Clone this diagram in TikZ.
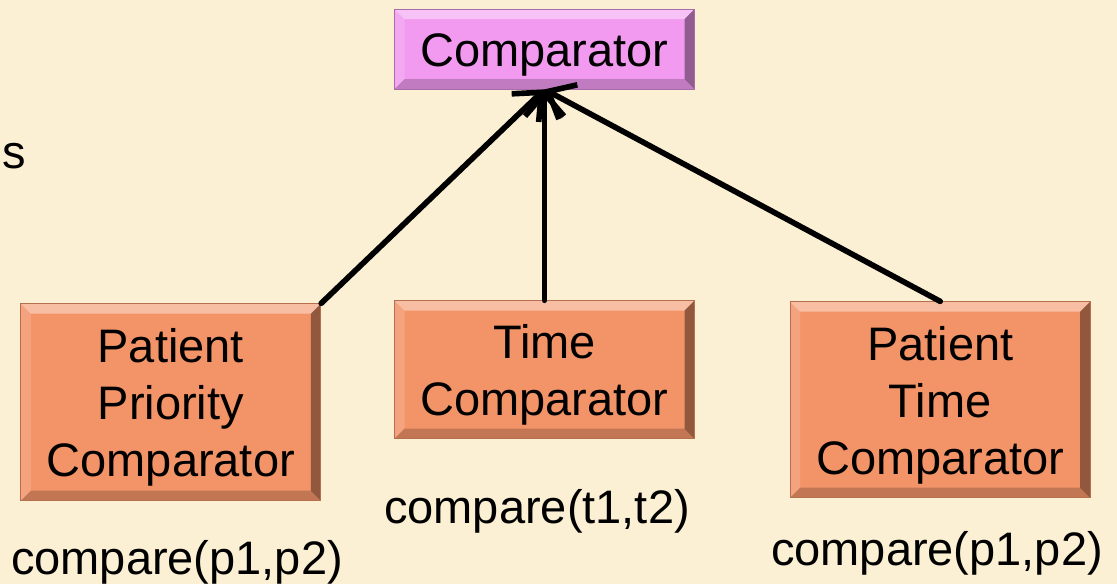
\documentclass[tikz,border=0pt]{standalone}
\usepackage{fontspec}
\setmainfont{Liberation Sans}
\usetikzlibrary{arrows.meta,positioning}

\definecolor{bgcream}{HTML}{FBEFD4}
\definecolor{cmpviolet}{HTML}{F29AF0}
\definecolor{implorange}{HTML}{F39468}

\begin{document}
\begin{tikzpicture}[
    bevel/.style={path picture={
      \fill[white,opacity=.4] (path picture bounding box.north west) -- (path picture bounding box.north east)
        -- ([shift={(-0.2cm,-0.2cm)}]path picture bounding box.north east) -- ([shift={(0.2cm,-0.2cm)}]path picture bounding box.north west) -- cycle;
      \fill[white,opacity=.15] (path picture bounding box.north west) -- ([shift={(0.2cm,-0.2cm)}]path picture bounding box.north west)
        -- ([shift={(0.2cm,0.2cm)}]path picture bounding box.south west) -- (path picture bounding box.south west) -- cycle;
      \fill[black,opacity=.2] (path picture bounding box.south west) -- (path picture bounding box.south east)
        -- ([shift={(-0.2cm,0.2cm)}]path picture bounding box.south east) -- ([shift={(0.2cm,0.2cm)}]path picture bounding box.south west) -- cycle;
      \fill[black,opacity=.4] (path picture bounding box.north east) -- (path picture bounding box.south east)
        -- ([shift={(-0.2cm,0.2cm)}]path picture bounding box.south east) -- ([shift={(-0.2cm,-0.2cm)}]path picture bounding box.north east) -- cycle;
    }},
    box/.style={rectangle, fill=implorange, draw=implorange!75!black, line width=0.4pt, bevel, minimum width=6cm, text width=5.6cm, align=center, inner sep=0pt, font=\fontsize{26.75}{32.4}\selectfont, execute at begin node={\rule{0pt}{0.9cm}}},
    iface/.style={box, fill=cmpviolet, draw=cmpviolet!70!black, minimum height=1.6cm},
    label/.style={inner sep=0pt, anchor=base, font=\fontsize{26.75}{32.4}\selectfont},
    line/.style={draw, line width=3.2pt, line cap=round, line join=round, -{Straight Barb[length=0.45cm, width=0.78cm]}}]

    \useasboundingbox (0,0) rectangle (22.34,-11.68);
    \fill[bgcream] (0,0) rectangle (22.34,-11.68);

    \node [iface] (cmp) at (10.89,-0.98) {Comparator};
    \node [box, minimum height=2.76cm, below=4.22cm of cmp] (tc) {Time\\Comparator};
    \node [box, minimum height=3.94cm, anchor=north east] (ppc) at ([xshift=-1.46cm,yshift=-0.06cm]tc.north west) {Patient\\Priority\\Comparator};
    \node [box, minimum height=3.92cm, anchor=north west] (ptc) at ([xshift=1.9cm,yshift=-0.02cm]tc.north east) {Patient\\Time\\Comparator};

    \node [label, anchor=base west] (cut) at (0.04,-3.36) {s};
    \node [label] (lpp) at (3.54,-11.48) {compare(p1,p2)};
    \node [label] (ltt) at (10.74,-10.46) {compare(t1,t2)};
    \node [label] (rpp) at (18.74,-11.3) {compare(p1,p2)};

    \path [line] (ppc.north east) -- (cmp.south);
    \path [line] (tc.north) -- (cmp.south);
    \path [line] (ptc.north) -- (cmp.south);
\end{tikzpicture}
\end{document}
